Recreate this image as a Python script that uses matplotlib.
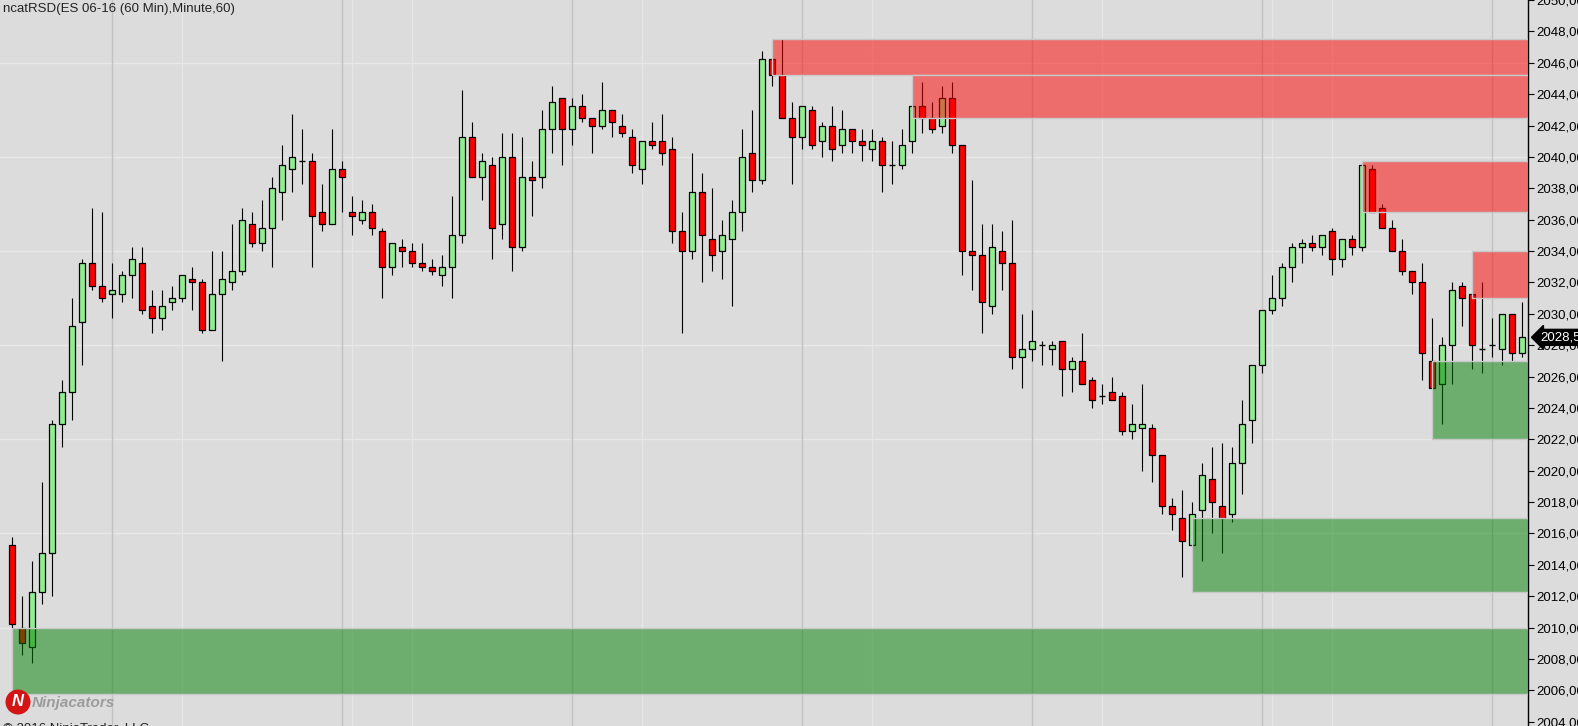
import matplotlib
matplotlib.use("Agg")
import matplotlib.pyplot as plt
from matplotlib.patches import Rectangle, Ellipse
from matplotlib.transforms import blended_transform_factory

plt.rcParams['font.family'] = ['Liberation Sans', 'DejaVu Sans']

# hourly OHLC, ES 06-16
opens = [2015.25, 2010.0, 2008.75, 2012.25, 2014.75, 2023.0, 2025.0, 2029.5, 2033.25, 2031.75,
         2031.25, 2031.25, 2032.5, 2033.25, 2030.5, 2029.75, 2030.75, 2031.0, 2032.25, 2032.0,
         2029.0, 2031.25, 2032.0, 2032.75, 2035.75, 2034.5, 2035.5, 2037.75, 2039.25, 2039.75,
         2039.75, 2036.5, 2035.75, 2039.25, 2036.5, 2036.0, 2036.5, 2035.25, 2033.0, 2034.25,
         2034.0, 2033.25, 2033.0, 2032.5, 2033.0, 2035.0, 2041.25, 2038.75, 2039.5, 2035.75,
         2040.0, 2034.25, 2038.75, 2038.75, 2041.75, 2043.75, 2041.75, 2043.25, 2042.5, 2042.0,
         2043.0, 2042.0, 2041.25, 2039.25, 2041.0, 2041.0, 2040.5, 2035.25, 2034.0, 2037.75,
         2034.75, 2034.0, 2034.75, 2036.5, 2040.25, 2038.5, 2046.25, 2045.25, 2042.5, 2041.25,
         2043.0, 2041.0, 2042.0, 2040.75, 2041.75, 2041.0, 2040.5, 2041.0, 2039.5, 2039.5,
         2041.0, 2043.25, 2042.5, 2042.0, 2043.75, 2040.75, 2034.0, 2033.75, 2030.5, 2034.0,
         2033.25, 2027.25, 2027.75, 2028.0, 2027.75, 2028.25, 2026.5, 2027.0, 2025.75, 2024.75,
         2025.0, 2024.75, 2022.5, 2022.75, 2022.75, 2021.0, 2017.75, 2017.0, 2015.25, 2017.5,
         2019.5, 2017.75, 2017.25, 2020.5, 2023.25, 2026.75, 2030.25, 2031.0, 2033.0, 2034.25,
         2034.5, 2034.25, 2035.25, 2033.5, 2034.75, 2034.25, 2039.25, 2036.75, 2035.5, 2034.0,
         2032.75, 2032.0, 2027.0, 2025.5, 2028.0, 2031.75, 2031.25, 2027.75, 2028.0, 2027.75,
         2030.0, 2027.5]
highs = [2015.75, 2012.0, 2014.25, 2019.25, 2023.25, 2025.75, 2031.0, 2033.5, 2036.75, 2036.5,
         2033.25, 2032.75, 2034.25, 2034.25, 2031.5, 2031.5, 2031.75, 2032.5, 2033.0, 2032.25,
         2034.0, 2034.0, 2035.75, 2036.75, 2036.5, 2037.25, 2038.75, 2040.75, 2042.75, 2041.75,
         2040.25, 2038.25, 2041.75, 2039.75, 2037.5, 2037.25, 2037.0, 2035.5, 2034.5, 2034.75,
         2034.5, 2034.5, 2033.5, 2033.75, 2037.5, 2044.25, 2042.25, 2040.25, 2040.0, 2041.5,
         2041.5, 2041.25, 2039.75, 2043.0, 2044.5, 2043.75, 2043.75, 2044.0, 2042.5, 2044.75,
         2043.0, 2042.75, 2041.75, 2041.0, 2042.25, 2042.75, 2041.25, 2036.5, 2040.25, 2039.0,
         2038.0, 2036.0, 2037.25, 2041.75, 2043.0, 2046.75, 2046.25, 2047.5, 2043.5, 2043.25,
         2043.25, 2042.25, 2043.25, 2043.0, 2041.75, 2041.75, 2041.75, 2041.25, 2041.0, 2041.75,
         2043.25, 2044.75, 2043.5, 2044.5, 2044.75, 2040.75, 2038.5, 2035.75, 2035.75, 2035.25,
         2036.0, 2030.0, 2030.25, 2028.25, 2028.25, 2028.25, 2027.25, 2028.75, 2026.0, 2025.5,
         2026.0, 2025.0, 2024.25, 2025.5, 2023.0, 2021.0, 2018.25, 2018.75, 2018.0, 2020.5,
         2021.5, 2021.75, 2021.5, 2024.5, 2026.75, 2030.25, 2032.5, 2033.25, 2034.5, 2034.75,
         2035.0, 2035.0, 2035.5, 2034.75, 2035.0, 2039.5, 2039.5, 2037.0, 2036.0, 2034.75,
         2032.75, 2033.25, 2029.75, 2028.5, 2032.0, 2032.0, 2031.25, 2032.0, 2029.75, 2030.0,
         2030.0, 2030.75]
lows = [2010.0, 2008.25, 2007.75, 2011.5, 2012.0, 2021.5, 2023.25, 2026.75, 2031.5, 2030.75,
        2029.75, 2030.75, 2031.0, 2030.0, 2028.75, 2029.0, 2030.25, 2030.75, 2030.25, 2028.75,
        2029.0, 2027.0, 2031.5, 2032.5, 2034.25, 2034.0, 2033.0, 2036.0, 2037.75, 2038.25,
        2033.0, 2035.25, 2035.75, 2036.5, 2035.0, 2035.75, 2035.0, 2031.0, 2032.5, 2033.0,
        2033.0, 2032.75, 2032.5, 2031.75, 2031.0, 2034.5, 2038.75, 2037.25, 2033.5, 2034.75,
        2032.75, 2034.0, 2036.25, 2038.0, 2040.25, 2039.5, 2040.75, 2042.25, 2040.25, 2041.75,
        2041.25, 2041.25, 2039.0, 2038.25, 2040.5, 2039.5, 2034.5, 2028.75, 2033.5, 2032.0,
        2032.75, 2032.25, 2030.5, 2035.25, 2037.75, 2038.25, 2044.5, 2042.5, 2038.25, 2040.5,
        2040.5, 2040.0, 2039.75, 2040.25, 2040.25, 2039.75, 2039.75, 2037.75, 2038.25, 2039.25,
        2040.25, 2041.5, 2041.5, 2041.5, 2040.25, 2032.5, 2031.5, 2028.75, 2030.0, 2031.5,
        2026.5, 2025.25, 2027.0, 2026.75, 2026.75, 2024.75, 2025.0, 2025.5, 2024.0, 2024.25,
        2024.5, 2022.25, 2022.0, 2020.0, 2019.25, 2017.25, 2016.25, 2013.25, 2015.25, 2014.25,
        2016.0, 2014.75, 2016.75, 2018.5, 2021.75, 2026.25, 2030.0, 2030.5, 2032.0, 2033.25,
        2034.0, 2033.75, 2032.5, 2033.0, 2033.75, 2034.0, 2036.5, 2035.5, 2034.0, 2032.5,
        2031.25, 2025.75, 2025.25, 2023.0, 2025.5, 2029.25, 2026.5, 2026.25, 2027.25, 2026.75,
        2027.0, 2027.25]
closes = [2010.25, 2009.0, 2012.25, 2014.75, 2023.0, 2025.0, 2029.25, 2033.25, 2031.75, 2031.0,
          2031.5, 2032.5, 2033.5, 2030.25, 2029.75, 2030.5, 2031.0, 2032.5, 2032.0, 2029.0,
          2031.25, 2032.25, 2032.75, 2036.0, 2034.5, 2035.5, 2038.0, 2039.5, 2040.0, 2039.75,
          2036.25, 2035.75, 2039.25, 2038.75, 2036.25, 2036.5, 2035.5, 2033.0, 2034.5, 2034.0,
          2033.25, 2033.0, 2032.75, 2033.0, 2035.0, 2041.25, 2038.75, 2039.75, 2035.5, 2040.0,
          2034.25, 2038.75, 2038.5, 2041.75, 2043.5, 2041.75, 2043.25, 2042.5, 2042.0, 2043.0,
          2042.25, 2041.5, 2039.5, 2041.0, 2040.75, 2040.25, 2035.25, 2034.0, 2037.75, 2035.0,
          2033.75, 2035.0, 2036.5, 2040.0, 2038.5, 2046.25, 2045.25, 2042.5, 2041.25, 2043.25,
          2040.75, 2042.0, 2040.5, 2041.75, 2041.0, 2040.75, 2041.0, 2039.5, 2039.5, 2040.75,
          2043.25, 2042.5, 2041.75, 2043.75, 2040.75, 2034.0, 2033.75, 2030.75, 2034.25, 2033.25,
          2027.25, 2027.75, 2028.25, 2028.0, 2028.0, 2026.5, 2027.0, 2025.5, 2024.5, 2024.75,
          2024.5, 2022.5, 2023.0, 2023.0, 2021.0, 2017.75, 2017.25, 2015.5, 2017.25, 2019.75,
          2018.0, 2017.0, 2020.5, 2023.0, 2026.75, 2030.25, 2031.0, 2033.0, 2034.25, 2034.5,
          2034.25, 2035.0, 2033.5, 2034.75, 2034.25, 2039.5, 2036.5, 2035.5, 2034.0, 2032.75,
          2032.0, 2027.5, 2025.25, 2028.0, 2031.5, 2031.0, 2028.0, 2027.75, 2028.0, 2030.0,
          2027.5, 2028.5]

# supply / demand zones: start bar, bottom, top
supply_start = [76, 90, 135, 146]
supply_low = [2045.25, 2042.5, 2036.5, 2031.0]
supply_high = [2047.5, 2045.25, 2039.75, 2034.0]
demand_start = [0, 118, 142]
demand_low = [2005.75, 2012.25, 2022.0]
demand_high = [2010.0, 2017.0, 2027.0]

session_bars = [10, 33, 56, 79, 102, 125, 148]
minor_bars = [17, 34, 40, 63, 86, 109, 126, 132]
grid_prices = [2010, 2016, 2022, 2028, 2034, 2040, 2046]
last_price = 2028.5

W, H = 1578, 726
fig = plt.figure(figsize=(W / 100, H / 100), dpi=100, facecolor='#dcdcdc')
ax = fig.add_axes([0, 0, 1528 / W, 1])
ax.set_facecolor('#dcdcdc')
x_max = 151.63
ax.set_xlim(-1.17, x_max)
ax.set_ylim(2003.73, 2049.97)

for p in grid_prices:
    ax.axhline(p, color='#e8e8e8', lw=1, zorder=0)
for b in minor_bars:
    ax.axvline(b, color='#e6e6e6', lw=1, zorder=0)
for b in session_bars:
    ax.axvline(b, color='#c2c2c2', lw=1, zorder=0)

bw = 0.56
for i in range(len(opens)):
    o, h, l, c = opens[i], highs[i], lows[i], closes[i]
    ax.vlines(i, l, h, color='black', lw=0.8, zorder=2)
    if c == o:
        ax.hlines(o, i - bw / 2, i + bw / 2, color='black', lw=1, zorder=3)
        continue
    col = '#90ee90' if c > o else '#ff0000'
    ax.add_patch(Rectangle((i - bw / 2, min(o, c)), bw, abs(c - o),
                           facecolor=col, edgecolor='black', lw=0.9, zorder=3))

for s, lo, hi in zip(supply_start, supply_low, supply_high):
    ax.add_patch(Rectangle((s, lo), x_max - s, hi - lo, facecolor='#ff0000',
                           alpha=0.5, lw=0, zorder=4))
    ax.add_patch(Rectangle((s, lo), x_max - s, hi - lo, fill=False,
                           edgecolor='#c8c8c8', lw=1, zorder=4))
for s, lo, hi in zip(demand_start, demand_low, demand_high):
    ax.add_patch(Rectangle((s, lo), x_max - s, hi - lo, facecolor='#008000',
                           alpha=0.5, lw=0, zorder=4))
    ax.add_patch(Rectangle((s, lo), x_max - s, hi - lo, fill=False,
                           edgecolor='#c8c8c8', lw=1, zorder=4))

# price axis on the right
for side in ['left', 'top', 'bottom']:
    ax.spines[side].set_visible(False)
ax.spines['right'].set_color('black')
ax.spines['right'].set_linewidth(1)
ax.set_xticks([])
ax.yaxis.tick_right()
yt = list(range(2004, 2051, 2))
ax.set_yticks(yt)
ax.set_yticklabels([f"{v:.2f}".replace('.', ',') for v in yt])
ax.tick_params(axis='y', direction='out', length=4, width=0.8, pad=2,
               labelsize=9.5, colors='black')

tr = blended_transform_factory(ax.transAxes, ax.transData)
ax.text(1 + 12 / 1528, last_price, f"{last_price:.1f}".replace('.', ','),
        transform=tr, color='white', fontsize=9.5, va='center', ha='left',
        bbox=dict(boxstyle='larrow,pad=0.15', fc='black', ec='black'), zorder=6,
        clip_on=False)

fig.text(3 / W, 1 - 9 / H, "ncatRSD(ES 06-16 (60 Min),Minute,60)", fontsize=9.5,
         color='#222222', va='center', ha='left')

# logo and copyright
fig.patches.append(Ellipse((18 / W, 1 - 702 / H), 25 / W, 25 / H, facecolor='#d41515',
                           edgecolor='none', transform=fig.transFigure, zorder=7))
fig.text(18 / W, 1 - 702 / H, "N", color='white', fontsize=12, fontweight='bold',
         style='italic', ha='center', va='center', zorder=8)
fig.text(32 / W, 1 - 703 / H, "Ninjacators", color='#9c9c9c', fontsize=11,
         fontweight='bold', style='italic', ha='left', va='center', zorder=8)
fig.text(3 / W, 1 - 732 / H, "\u00a9 2016 NinjaTrader, LLC", color='#222222',
         fontsize=9.5, ha='left', va='baseline')

fig.savefig('out.png', dpi=100, facecolor=fig.get_facecolor())
